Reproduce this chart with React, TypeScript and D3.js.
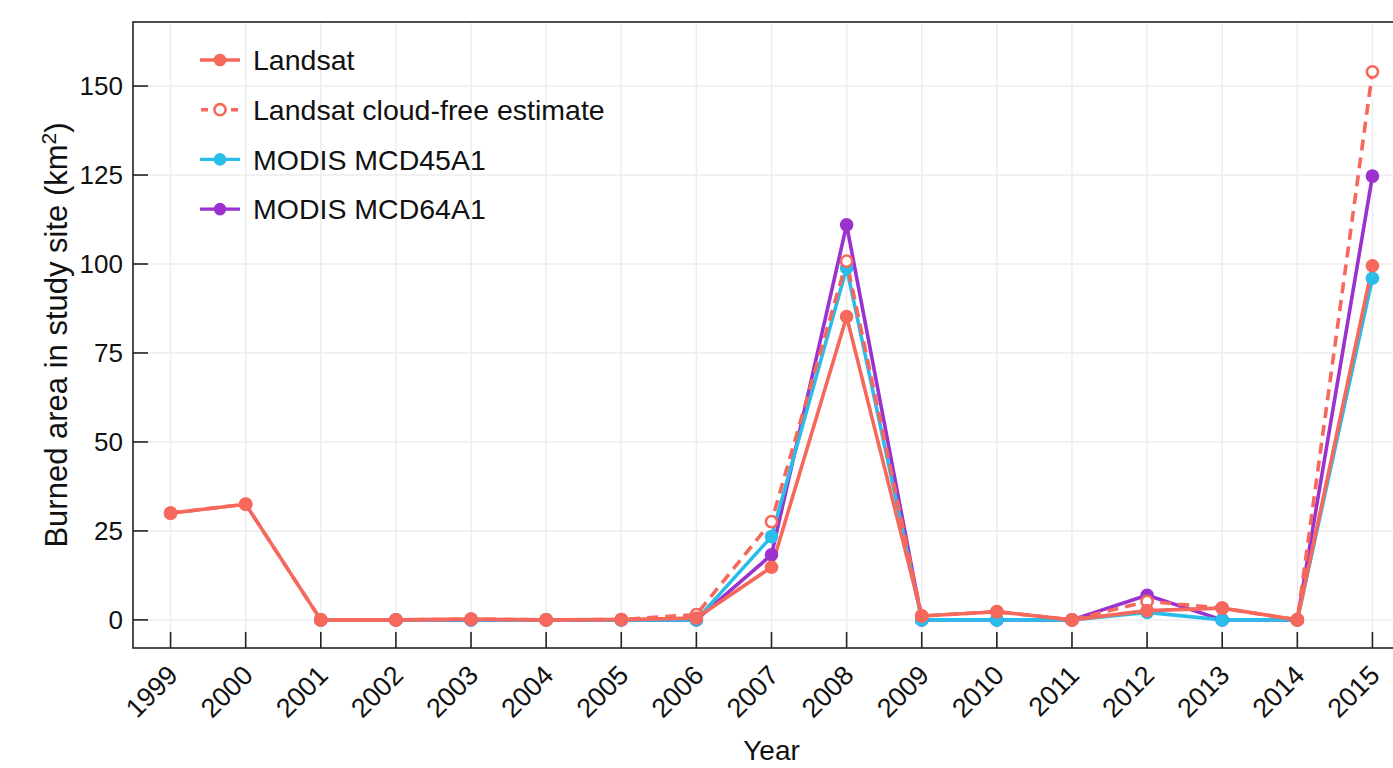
import React from "react";
import * as d3 from "d3";

const years = [1999, 2000, 2001, 2002, 2003, 2004, 2005, 2006, 2007, 2008, 2009, 2010, 2011, 2012, 2013, 2014, 2015];
const landsat: (number | null)[] = [30, 32.5, 0, 0, 0.2, 0, 0.1, 0.5, 14.8, 85.2, 1.1, 2.3, 0, 2.6, 3.3, 0, 99.5];
const landsatCloudFree: (number | null)[] = [30, 32.5, 0, 0, 0.2, 0, 0.1, 1.5, 27.6, 100.8, 1.1, 2.3, 0, 5.2, 3.3, 0, 154];
const mcd45: (number | null)[] = [null, null, 0, 0, 0, 0, 0, 0, 23.4, 98.9, 0, 0, 0, 2.1, 0, 0, 96];
const mcd64: (number | null)[] = [null, null, 0, 0, 0, 0, 0, 0, 18.3, 111, 0, 0, 0, 6.9, 0, 0, 124.7];
const yTicks = [0, 25, 50, 75, 100, 125, 150];
const seriesNames = ["Landsat", "Landsat cloud-free estimate", "MODIS MCD45A1", "MODIS MCD64A1"];

const RED = "#F6685B";
const BLUE = "#2BBDE9";
const PURPLE = "#9B31CF";

const W = 1393;
const H = 768;
const L = 133, R = 1410, T = 22, B = 648;

export default function App() {
  const x = d3.scaleLinear().domain([1998.5, 2015.5]).range([L, R]);
  const y = d3.scaleLinear().domain([-7.9, 168]).range([B, T]);

  type S = { name: string; values: (number | null)[]; color: string; dashed: boolean; open: boolean };
  const series: S[] = [
    { name: seriesNames[3], values: mcd64, color: PURPLE, dashed: false, open: false },
    { name: seriesNames[2], values: mcd45, color: BLUE, dashed: false, open: false },
    { name: seriesNames[1], values: landsatCloudFree, color: RED, dashed: true, open: true },
    { name: seriesNames[0], values: landsat, color: RED, dashed: false, open: false },
  ];
  const legendOrder: S[] = [series[3], series[2], series[1], series[0]];

  const line = d3
    .line<[number, number | null]>()
    .defined((d) => d[1] != null)
    .x((d) => x(d[0]))
    .y((d) => y(d[1] as number));

  const font = "'Liberation Sans', Arial, Helvetica, sans-serif";

  return (
    <svg width={W} height={H} style={{ position: "absolute", left: 0, top: 0, background: "#fff" }} fontFamily={font}>
      <defs>
        <clipPath id="panel">
          <rect x={L} y={T} width={R - L} height={B - T} />
        </clipPath>
      </defs>
      {/* grid */}
      <g stroke="#EDEDED" strokeWidth={1.5}>
        {years.map((yr) => (
          <line key={"gx" + yr} x1={x(yr)} x2={x(yr)} y1={T} y2={B} />
        ))}
        {yTicks.map((t) => (
          <line key={"gy" + t} x1={L} x2={R} y1={y(t)} y2={y(t)} />
        ))}
      </g>
      {/* lines */}
      <g clipPath="url(#panel)" fill="none" strokeWidth={3.6} strokeLinejoin="round">
        {series.map((s) => (
          <path
            key={"l" + s.name}
            d={line(years.map((yr, i) => [yr, s.values[i]] as [number, number | null])) || ""}
            stroke={s.color}
            strokeDasharray={s.dashed ? "11,7" : undefined}
          />
        ))}
      </g>
      {/* points */}
      <g clipPath="url(#panel)">
        {series.map((s) =>
          years.map((yr, i) =>
            s.values[i] == null ? null : s.open ? (
              <circle key={s.name + yr} cx={x(yr)} cy={y(s.values[i] as number)} r={5.6} fill="#fff" stroke={s.color} strokeWidth={2.6} />
            ) : (
              <circle key={s.name + yr} cx={x(yr)} cy={y(s.values[i] as number)} r={6.8} fill={s.color} />
            )
          )
        )}
      </g>
      {/* panel border */}
      <rect x={L} y={T} width={R - L} height={B - T} fill="none" stroke="#222" strokeWidth={1.6} />
      {/* y ticks */}
      {yTicks.map((t) => (
        <g key={"yt" + t}>
          <line x1={L} x2={L + 15} y1={y(t)} y2={y(t)} stroke="#222" strokeWidth={1.6} />
          <text x={L - 10} y={y(t)} dy="0.36em" textAnchor="end" fontSize={26} fill="#111">
            {t}
          </text>
        </g>
      ))}
      {/* x ticks */}
      {years.map((yr) => (
        <g key={"xt" + yr}>
          <line x1={x(yr)} x2={x(yr)} y1={B} y2={B - 16} stroke="#222" strokeWidth={1.6} />
          <text
            transform={`translate(${x(yr) + 2},${B + 22}) rotate(-45)`}
            textAnchor="end"
            dy="0.36em"
            fontSize={27}
            fill="#111"
          >
            {yr}
          </text>
        </g>
      ))}
      {/* axis titles */}
      <text x={(L + R) / 2} y={H - 8} textAnchor="middle" fontSize={28} fill="#111">
        Year
      </text>
      <text transform={`translate(67,${(T + B) / 2}) rotate(-90)`} textAnchor="middle" fontSize={31} fill="#111">
        Burned area in study site (km
        <tspan baselineShift="super" fontSize={21}>2</tspan>)
      </text>
      {/* legend */}
      {legendOrder.map((s, i) => {
        const ly = 60 + i * 49.7;
        return (
          <g key={"lg" + s.name}>
            <line x1={200} x2={240} y1={ly} y2={ly} stroke={s.color} strokeWidth={3.4} strokeDasharray={s.dashed ? "7,8" : undefined} strokeDashoffset={s.dashed ? -1 : 0} />
            {s.open ? (
              <circle cx={220} cy={ly} r={5.6} fill="#fff" stroke={s.color} strokeWidth={2.6} />
            ) : (
              <circle cx={220} cy={ly} r={6.3} fill={s.color} />
            )}
            <text x={253} y={ly} dy="0.36em" fontSize={28.5} fill="#111">
              {s.name}
            </text>
          </g>
        );
      })}
    </svg>
  );
}
